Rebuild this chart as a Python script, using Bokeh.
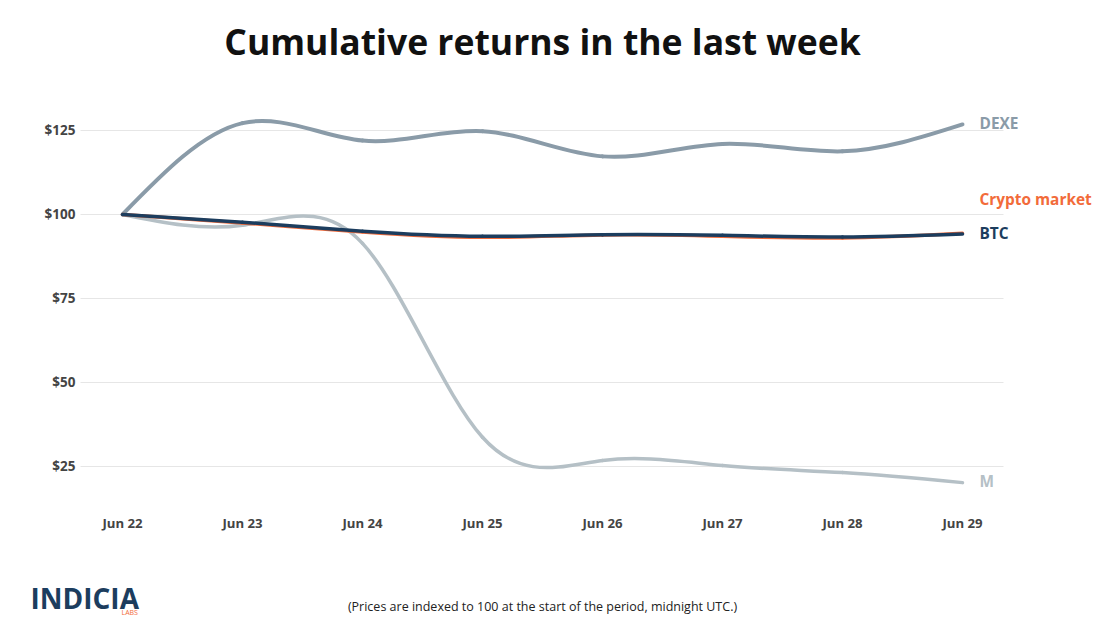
import numpy as np
from bokeh.plotting import figure
from bokeh.models import Range1d
from bokeh.core.properties import value
from bokeh.embed import file_html
from bokeh.resources import INLINE

# ---- data ----
days = ["Jun 22", "Jun 23", "Jun 24", "Jun 25", "Jun 26", "Jun 27", "Jun 28", "Jun 29"]
dexe = [100.0, 127.2, 122.0, 124.8, 117.3, 121.0, 118.8, 126.8]
crypto_market = [100.0, 97.5, 94.8, 93.2, 93.9, 93.5, 93.0, 94.4]
btc = [100.0, 97.7, 95.0, 93.5, 94.0, 93.8, 93.3, 94.2]
m_token = [100.0, 96.8, 91.4, 33.7, 26.8, 25.3, 23.2, 20.2]
y_ticks = [25, 50, 75, 100, 125]

FONT = value("Open Sans")
C_DEXE = "#8a9ba8"
C_CM = "#f26b3a"
C_BTC = "#1c3d5e"
C_M = "#b5c0c6"

# layout constants (data units of the full-canvas frame)
X_LEFT, X_RIGHT = -1.01667, 8.21667
Y_BOT, Y_TOP = -20.536, 163.69
GRID_X0, GRID_X1 = -0.35, 7.3417
XLABEL_Y = 8.04

x = np.arange(len(days), dtype=float)


def natural_bezier(xs, ys):
    ys = np.asarray(ys, float)
    n = len(ys) - 1
    A = np.zeros((n + 1, n + 1))
    b = np.zeros(n + 1)
    A[0, 0] = 1
    A[n, n] = 1
    for i in range(1, n):
        A[i, i - 1] = 1
        A[i, i] = 4
        A[i, i + 1] = 1
        b[i] = 6 * (ys[i + 1] - 2 * ys[i] + ys[i - 1])
    M = np.linalg.solve(A, b)
    d = np.zeros(n + 1)
    for i in range(n):
        d[i] = (ys[i + 1] - ys[i]) - (2 * M[i] + M[i + 1]) / 6
    d[n] = (ys[n] - ys[n - 1]) + (M[n - 1] + 2 * M[n]) / 6
    h = 1.0 / 3.0
    return dict(
        x0=xs[:-1], y0=ys[:-1], x1=xs[1:], y1=ys[1:],
        cx0=xs[:-1] + h, cy0=ys[:-1] + d[:-1] * h,
        cx1=xs[1:] - h, cy1=ys[1:] - d[1:] * h,
    )


p = figure(width=1108, height=619, output_backend="svg", toolbar_location=None,
           x_range=Range1d(X_LEFT, X_RIGHT), y_range=Range1d(Y_BOT, Y_TOP),
           min_border=0)
p.outline_line_color = None
p.background_fill_color = "white"
p.border_fill_color = "white"
p.xaxis.visible = False
p.yaxis.visible = False
p.xgrid.visible = False
p.ygrid.visible = False

# gridlines
p.segment(x0=[GRID_X0] * len(y_ticks), x1=[GRID_X1] * len(y_ticks), y0=y_ticks, y1=y_ticks,
          line_color="#e6e6e6", line_width=1)

# y tick labels
p.text(x=[GRID_X0] * len(y_ticks), y=y_ticks, text=["$%d" % t for t in y_ticks],
       x_offset=-5, text_font=FONT, text_font_style="bold", text_font_size="13.5px",
       text_color="#444444", text_align="right", text_baseline="middle")
# x tick labels
p.text(x=x, y=[XLABEL_Y] * len(days), text=days,
       text_font=FONT, text_font_style="bold", text_font_size="13.2px",
       text_color="#444444", text_align="center", text_baseline="middle")

for ys, col, w in [(m_token, C_M, 3.5), (dexe, C_DEXE, 4), (crypto_market, C_CM, 3.5), (btc, C_BTC, 3.5)]:
    seg = natural_bezier(x, ys)
    p.bezier(source=seg, x0="x0", y0="y0", x1="x1", y1="y1", cx0="cx0", cy0="cy0",
             cx1="cx1", cy1="cy1", line_color=col, line_width=w, line_cap="round")

# end labels
lab_names = ["DEXE", "Crypto market", "BTC", "M"]
lab_y = [dexe[-1], crypto_market[-1], btc[-1], m_token[-1]]
lab_dy = [0.3, 10.1, 0.1, 0.3]
lab_col = [C_DEXE, C_CM, C_BTC, C_M]
p.text(x=[x[-1]] * 4, y=[a + b for a, b in zip(lab_y, lab_dy)], text=lab_names,
       x_offset=17, text_font=FONT, text_font_style="bold", text_font_size="15.4px",
       text_color=lab_col, text_align="left", text_baseline="middle")

# title
p.text(x=[3.5], y=[151.5], text=["Cumulative returns in the last week"],
       text_font=FONT, text_font_style="bold", text_font_size="35.5px",
       text_color="#111111", text_align="center", text_baseline="middle")
# footnote
p.text(x=[3.5], y=[-16.67],
       text=["(Prices are indexed to 100 at the start of the period, midnight UTC.)"],
       text_font=FONT, text_font_size="12.5px", text_color="#222222",
       text_align="center", text_baseline="middle")
# logo
p.text(x=[X_LEFT], y=[-14.0], x_offset=30, text=["INDICIA"],
       text_font=FONT, text_font_style="bold", text_font_size="28px",
       text_color=C_BTC, text_align="left", text_baseline="middle")
p.text(x=[X_LEFT], y=[-18.6], x_offset=121, text=["LABS"],
       text_font=FONT, text_font_size="7px",
       text_color=C_CM, text_align="left", text_baseline="middle")

open("out.html", "w").write(file_html(p, INLINE))
